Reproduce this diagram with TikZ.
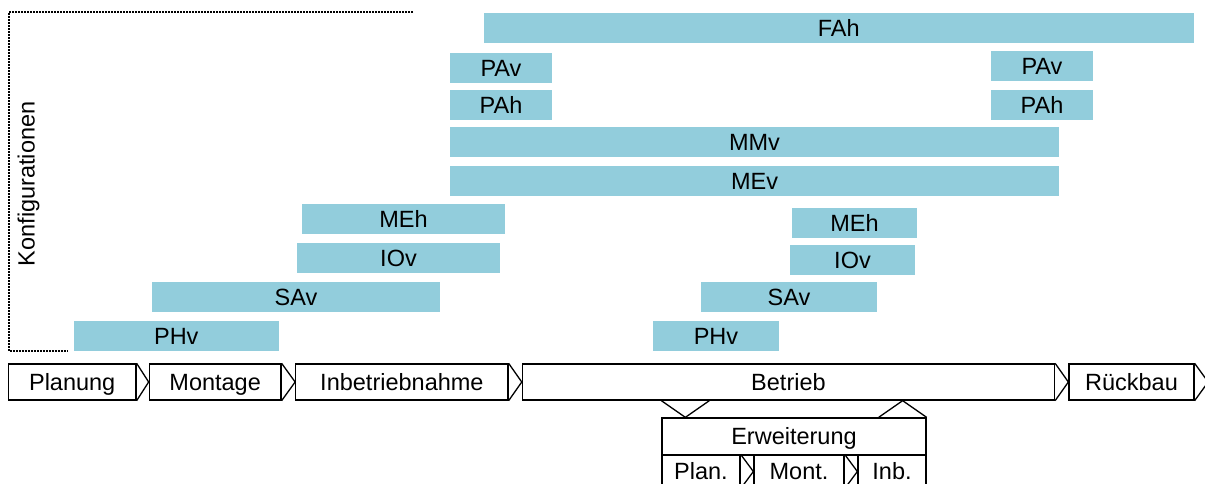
\documentclass[tikz,border=0pt]{standalone}
\usepackage{fontspec}
\setmainfont{Liberation Sans}
\usetikzlibrary{calc}

\definecolor{balkenblau}{RGB}{146,205,220}

\begin{document}
\begin{tikzpicture}[x=1pt, y=-1pt, every node/.style={inner sep=0pt, font=\fontsize{23.5}{28}\selectfont},
  balken/.style={fill=balkenblau, minimum height=29.5pt, text height=16.8pt, text depth=0pt},
  phase/.style={draw, line width=1.3pt, minimum height=36pt, text height=16.8pt, text depth=0pt},
  linie/.style={line width=1.3pt},
  punktiert/.style={line width=1.3pt, dash pattern=on 1.8pt off 1.2pt}]
\useasboundingbox (0,0) rectangle (1205,483);

% Konfigurationen
\draw[punktiert] (413,12) -- (9,12) -- (9,351) -- (68,351);
\node[rotate=90] (konfig) at (28.5,184) {Konfigurationen};

\node[balken, minimum width=709.5pt] (fah) at (838.75,28) {FAh};
\node[balken, minimum width=102pt] (pav1) at (501,68) {PAv};
\node[balken, minimum width=102pt] (pav2) at (1042,66) {PAv};
\node[balken, minimum width=102pt] (pah1) at (501,105) {PAh};
\node[balken, minimum width=102pt] (pah2) at (1042,105) {PAh};
\node[balken, minimum width=609pt] (mmv) at (754.5,142) {MMv};
\node[balken, minimum width=609pt] (mev) at (754.5,181) {MEv};
\node[balken, minimum width=203pt] (meh1) at (403.5,219) {MEh};
\node[balken, minimum width=125pt] (meh2) at (854.5,223) {MEh};
\node[balken, minimum width=203pt] (iov1) at (398.5,258) {IOv};
\node[balken, minimum width=125pt] (iov2) at (852.5,260) {IOv};
\node[balken, minimum width=288pt] (sav1) at (296,297) {SAv};
\node[balken, minimum width=176pt] (sav2) at (789,297) {SAv};
\node[balken, minimum width=204.6pt] (phv1) at (176.3,336) {PHv};
\node[balken, minimum width=126pt] (phv2) at (716,336) {PHv};

% Phasen
\node[phase, minimum width=127.6pt] (planung) at (72.2,382) {Planung};
\node[phase, minimum width=131.7pt] (montage) at (215.15,382) {Montage};
\node[phase, minimum width=212.2pt] (inbetrieb) at (401.9,382) {Inbetriebnahme};
\node[phase, minimum width=532.1pt] (betrieb) at (788.45,382) {Betrieb};
\node[phase, minimum width=125pt] (rueckbau) at (1131.5,382) {Rückbau};

\draw[linie] (planung.north east) -- (planung.east -| montage.west) -- (planung.south east);
\draw[linie] (montage.north east) -- (montage.east -| inbetrieb.west) -- (montage.south east);
\draw[linie] (inbetrieb.north east) -- (inbetrieb.east -| betrieb.west) -- (inbetrieb.south east);
\draw[linie] (betrieb.north east) -- (betrieb.east -| rueckbau.west) -- (betrieb.south east);
\draw[linie] (rueckbau.north east) -- ($(rueckbau.east)+(13.5,0)$) -- (rueckbau.south east);

% Erweiterung
\node[phase, minimum width=264pt, minimum height=37pt] (erw) at (794,436.5) {Erweiterung};
\node[phase, minimum width=78pt, minimum height=33pt] (plan) at (701,471.5) {Plan.};
\node[phase, minimum width=90pt, minimum height=33pt] (mont) at (799,471.5) {Mont.};
\node[phase, minimum width=68pt, minimum height=33pt] (inb) at (892,471.5) {Inb.};

\draw[linie] (plan.north east) -- (plan.east -| mont.west) -- (plan.south east);
\draw[linie] (mont.north east) -- (mont.east -| inb.west) -- (mont.south east);

\draw[linie] (erw.north west |- betrieb.south) -- ($(erw.north west)+(24,0)$) -- ($(erw.north west |- betrieb.south)+(48,0)$);
\draw[linie] ($(erw.north east)+(-48,0)$) -- ($(erw.north east |- betrieb.south)+(-24,0)$) -- (erw.north east);
\end{tikzpicture}
\end{document}
